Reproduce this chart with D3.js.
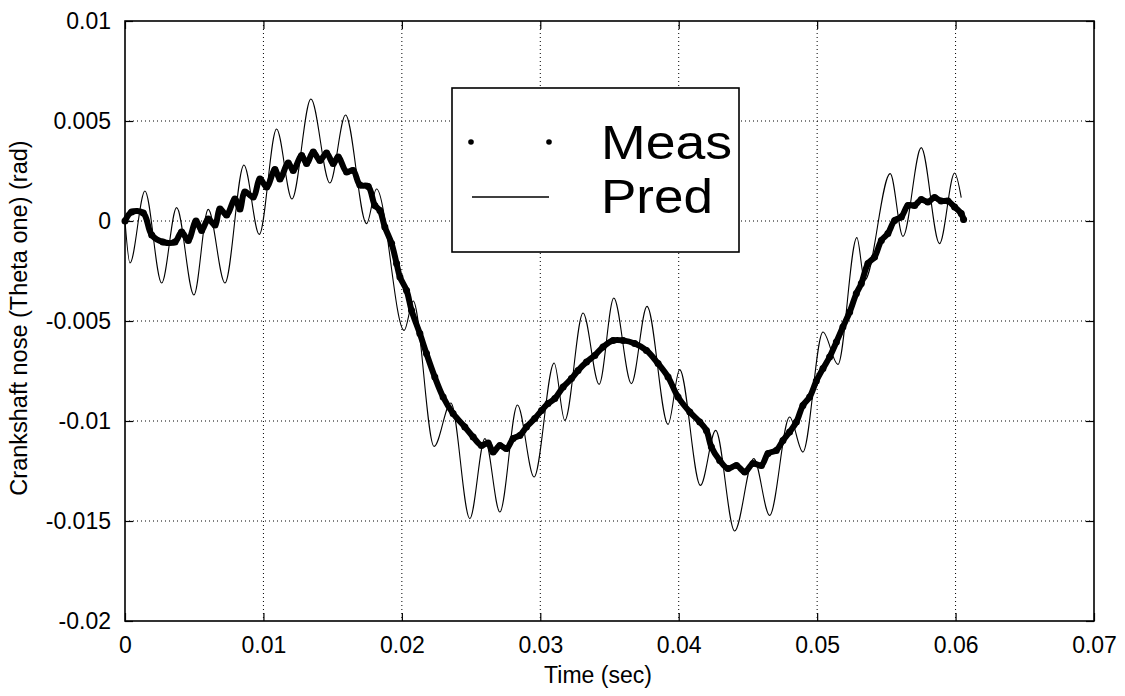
<!DOCTYPE html>
<html><head><meta charset="utf-8">
<script src="https://cdn.jsdelivr.net/npm/d3@7"></script>
<style>body{margin:0;background:#fff}text{font-family:Arial,"Liberation Sans",Helvetica,sans-serif;fill:#000}</style>
</head><body><svg id="c" width="1125" height="696"></svg>
<script>
const measT=[0,0.00048,0.00132,0.00193,0.00274,0.00361,0.00409,0.00457,0.00513,0.00554,0.00601,0.0065,0.00686,0.00734,0.00794,0.0083,0.00866,0.00926,0.00975,0.01023,0.01083,0.01119,0.01179,0.01215,0.01276,0.01312,0.0136,0.01408,0.01456,0.01504,0.0154,0.01601,0.01648,0.01697,0.01757,0.01805,0.01841,0.01877,0.01926,0.01962,0.01986,0.02034,0.0207,0.0213,0.02178,0.02238,0.02298,0.0237,0.02455,0.02515,0.02575,0.02623,0.02659,0.02708,0.02756,0.02804,0.02852,0.029,0.0296,0.03009,0.03056,0.03105,0.03165,0.03225,0.03273,0.03334,0.03394,0.03453,0.03526,0.03598,0.03682,0.03767,0.03851,0.03923,0.03995,0.0408,0.04152,0.042,0.04236,0.04296,0.04356,0.04417,0.04477,0.04536,0.04597,0.04645,0.04705,0.04753,0.04801,0.0485,0.04897,0.04946,0.04994,0.05042,0.0509,0.05139,0.05186,0.05235,0.05283,0.05319,0.05367,0.05415,0.05464,0.05511,0.0556,0.05608,0.05656,0.05704,0.05752,0.058,0.05848,0.05896,0.05945,0.05993,0.06041,0.06058];
const measY=[0,0.00045,0.0004,-0.0007,-0.00105,-0.00105,-0.00055,-0.00097,0,-0.00047,0.0001,-0.0002,0.0006,0.0003,0.0011,0.0006,0.00145,0.0012,0.0021,0.0017,0.00257,0.0021,0.0029,0.00253,0.00328,0.00287,0.00345,0.00303,0.0034,0.00287,0.0032,0.00245,0.00253,0.0018,0.00173,0.00078,0.00053,-0.0003,-0.00113,-0.00213,-0.0028,-0.00347,-0.00447,-0.00563,-0.00663,-0.0078,-0.0088,-0.00963,-0.0103,-0.0108,-0.01122,-0.0111,-0.01155,-0.01122,-0.01138,-0.01088,-0.01072,-0.0103,-0.00988,-0.00947,-0.00913,-0.00888,-0.0083,-0.00788,-0.00747,-0.00705,-0.00672,-0.0063,-0.00597,-0.00597,-0.00613,-0.00647,-0.00713,-0.0078,-0.0088,-0.00955,-0.01005,-0.01047,-0.0113,-0.01197,-0.01238,-0.01222,-0.01255,-0.01213,-0.01222,-0.01163,-0.01147,-0.01097,-0.01055,-0.01005,-0.00922,-0.0088,-0.008,-0.00738,-0.0068,-0.00605,-0.0053,-0.00455,-0.00363,-0.00313,-0.00213,-0.0018,-0.00097,-0.00063,0.00003,0.0002,0.00078,0.00078,0.00107,0.00095,0.00117,0.001,0.001,0.0007,0.00037,0.00007];
const predT=[0,0.00036,0.00144,0.00265,0.00373,0.00498,0.00601,0.00722,0.00859,0.0097,0.01095,0.01206,0.01343,0.0148,0.01593,0.01745,0.01817,0.02017,0.02082,0.02233,0.02354,0.02491,0.026,0.02708,0.02835,0.02955,0.031,0.03177,0.03309,0.03425,0.03531,0.03658,0.03771,0.03923,0.04007,0.04157,0.04267,0.04404,0.04542,0.04657,0.04801,0.04897,0.05042,0.0515,0.05287,0.05343,0.05528,0.0562,0.05752,0.05884,0.05993,0.06041];
const predY=[0,-0.0021,0.0015,-0.0031,0.00067,-0.0037,0.00058,-0.0031,0.0028,-0.00067,0.0046,0.0011,0.0061,0.0019,0.0053,-0.00013,0.0016,-0.00547,-0.004,-0.01127,-0.0091,-0.01488,-0.01088,-0.01455,-0.0092,-0.0128,-0.0071,-0.00997,-0.0046,-0.00817,-0.00385,-0.00813,-0.00427,-0.01017,-0.00743,-0.01322,-0.01047,-0.0155,-0.01188,-0.01472,-0.0098,-0.01155,-0.00555,-0.00717,-0.00083,-0.00297,0.00237,-0.00077,0.00367,-0.00113,0.0024,0.00117];
const xTicks=[0,0.01,0.02,0.03,0.04,0.05,0.06,0.07];
const yTicks=[0.01,0.005,0,-0.005,-0.01,-0.015,-0.02];
const xTickLabels=["0","0.01","0.02","0.03","0.04","0.05","0.06","0.07"];
const yTickLabels=["0.01","0.005","0","-0.005","-0.01","-0.015","-0.02"];
const seriesNames=["Meas","Pred"];
const xLabel="Time (sec)", yLabel="Crankshaft nose (Theta one) (rad)";

const svg=d3.select("#c");
const L=125,R=1094,T=21,B=621;
const x=d3.scaleLinear().domain([0,0.07]).range([L,R]);
const y=d3.scaleLinear().domain([-0.02,0.01]).range([B,T]);
const g=svg.append("g");
g.selectAll(".gx").data(xTicks.slice(1,-1)).join("line").attr("x1",d=>x(d)).attr("x2",d=>x(d)).attr("y1",T).attr("y2",B)
 .attr("stroke","#000").attr("stroke-width",1).attr("stroke-dasharray","1,3");
g.selectAll(".gy").data(yTicks.slice(1,-1)).join("line").attr("y1",d=>y(d)).attr("y2",d=>y(d)).attr("x1",L).attr("x2",R)
 .attr("stroke","#000").attr("stroke-width",1).attr("stroke-dasharray","1,3");
const ax=d3.axisBottom(x).tickValues(xTicks).tickSize(-8).tickPadding(16).tickFormat((d,i)=>xTickLabels[i]);
const ay=d3.axisLeft(y).tickValues(yTicks).tickSize(-8).tickPadding(14).tickFormat((d,i)=>yTickLabels[i]);
const gx=svg.append("g").attr("transform",`translate(0,${B})`).call(ax);
const gy=svg.append("g").attr("transform",`translate(${L},0)`).call(ay);
const axt=svg.append("g").attr("transform",`translate(0,${T})`).call(d3.axisTop(x).tickValues(xTicks).tickSize(-8).tickFormat(""));
const ayr=svg.append("g").attr("transform",`translate(${R},0)`).call(d3.axisRight(y).tickValues(yTicks).tickSize(-8).tickFormat(""));
[gx,gy,axt,ayr].forEach(a=>{a.select(".domain").remove();a.selectAll("line").attr("stroke","#000").attr("stroke-width",1.2);a.selectAll("text").attr("font-size",23).attr("font-family","Arial, Liberation Sans, sans-serif").attr("fill","#000");});
svg.append("rect").attr("x",L).attr("y",T).attr("width",R-L).attr("height",B-T).attr("fill","none").attr("stroke","#000").attr("stroke-width",1.6);

const pred=predT.map((t,i)=>[t,predY[i]]);
svg.append("path").datum(pred).attr("d",d3.line().x(d=>x(d[0])).y(d=>y(d[1])).curve(d3.curveMonotoneX))
 .attr("fill","none").attr("stroke","#000").attr("stroke-width",1.1);
const meas=measT.map((t,i)=>[t,measY[i]]);
svg.append("path").datum(meas).attr("d",d3.line().x(d=>x(d[0])).y(d=>y(d[1])).curve(d3.curveCatmullRom))
 .attr("fill","none").attr("stroke","#000").attr("stroke-width",6).attr("stroke-linejoin","round").attr("stroke-linecap","round");
svg.append("g").selectAll("circle").data(meas).join("circle").attr("cx",d=>x(d[0])).attr("cy",d=>y(d[1])).attr("r",3.5).attr("fill","#000");

const lg=svg.append("g");
lg.append("rect").attr("x",452).attr("y",88).attr("width",287).attr("height",164).attr("fill","#fff").attr("stroke","#000").attr("stroke-width",1.6);
lg.selectAll(".ld").data([471,549]).join("circle").attr("cx",d=>d).attr("cy",142).attr("r",2.8).attr("fill","#000");
lg.append("line").attr("x1",472).attr("x2",549).attr("y1",197).attr("y2",197).attr("stroke","#000").attr("stroke-width",1.3);
lg.selectAll(".lt").data(seriesNames).join("text").attr("x",601).attr("y",(d,i)=>159+i*54).attr("font-size",48).attr("textLength",(d,i)=>i===0?131:112).attr("lengthAdjust","spacingAndGlyphs").text(d=>d);

svg.append("text").attr("x",598).attr("y",683).attr("text-anchor","middle").attr("font-size",23).text(xLabel);
svg.append("text").attr("transform","translate(27,318) rotate(-90)").attr("text-anchor","middle").attr("font-size",23.5).text(yLabel);
</script></body></html>
